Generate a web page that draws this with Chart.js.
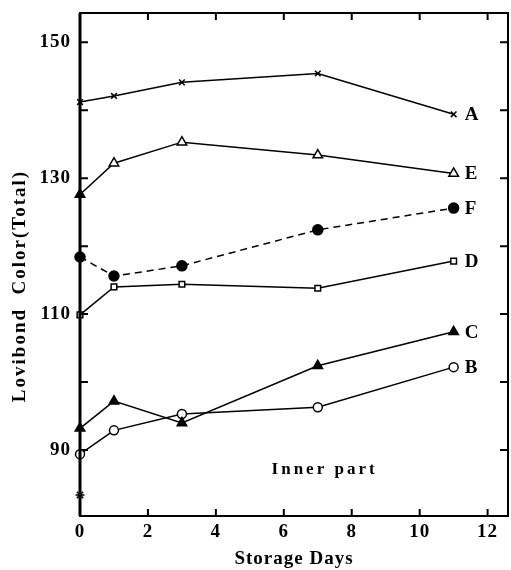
<!DOCTYPE html>
<html>
<head>
<meta charset="utf-8">
<script src="https://cdn.jsdelivr.net/npm/chart.js@4/dist/chart.umd.min.js"></script>
<style>
  html, body { margin: 0; padding: 0; background: #fff; overflow: hidden; }
  #wrap { width: 511px; height: 570px; position: relative; }
  canvas { display: block; }
</style>
</head>
<body>
<div id="wrap"><canvas id="c" width="511" height="570"></canvas></div>
<script>
// ---- data ----
const days = [0, 1, 3, 7, 11];
const seriesA = [141.2, 142.1, 144.1, 145.4, 139.4];
const seriesE = [127.6, 132.2, 135.3, 133.4, 130.7];
const seriesF = [118.4, 115.6, 117.1, 122.4, 125.6];
const seriesD = [109.9, 114.0, 114.4, 113.8, 117.8];
const seriesC = [93.2, 97.2, 94.0, 102.4, 107.4];
const seriesB = [89.4, 92.9, 95.3, 96.3, 102.2];
const extraDay = [0];
const extraValue = [83.4];
const seriesNames = ['A', 'E', 'F', 'D', 'C', 'B'];
const xTickValues = [0, 2, 4, 6, 8, 10, 12];
const yTickValues = [90, 100, 110, 120, 130, 140, 150];
const yLabelValues = [90, 110, 130, 150];
const xTitle = 'Storage Days';
const yTitle = 'Lovibond  Color(Total)';
const noteText = 'Inner part';

const SERIF = '"Liberation Serif", "DejaVu Serif", serif';
const toPts = (vals) => vals.map((v, i) => ({ x: days[i], y: v }));

function ds(label, vals, style, fill, extra) {
  return Object.assign({
    label: label,
    data: toPts(vals),
    borderColor: '#000',
    borderWidth: 1.5,
    pointStyle: style,
    pointRadius: 4.5,
    pointBorderWidth: 1.5,
    pointBorderColor: '#000',
    pointBackgroundColor: fill,
    tension: 0,
    fill: false,
    clip: false
  }, extra || {});
}

const datasets = [
  ds('A', seriesA, 'crossRot', '#000', { pointRadius: 4 }),
  ds('E', seriesE, 'triangle', ['#000', '#fff', '#fff', '#fff', '#fff'], { pointRadius: 5.5 }),
  ds('F', seriesF, 'circle', '#000', { borderDash: [7, 5], pointRadius: 5 }),
  ds('D', seriesD, 'rect', '#fff', { pointRadius: 4 }),
  ds('C', seriesC, 'triangle', '#000', { pointRadius: 5.5 }),
  ds('B', seriesB, 'circle', '#fff', { pointRadius: 4.5 }),
  {
    label: 'extra',
    data: extraDay.map((d, i) => ({ x: d, y: extraValue[i] })),
    showLine: false,
    clip: false,
    pointStyle: 'star',
    pointRadius: 4.5,
    pointBorderWidth: 1.5,
    pointBorderColor: '#000',
    pointBackgroundColor: '#000',
    borderColor: '#000'
  }
];

const decor = {
  id: 'decor',
  beforeDraw(chart) {
    chart.ctx.letterSpacing = '1px';
  },
  afterDatasetsDraw(chart) {
    const ctx = chart.ctx;
    const { left, right, top, bottom } = chart.chartArea;
    const xs = chart.scales.x, ys = chart.scales.y;
    ctx.save();
    ctx.strokeStyle = '#000';
    ctx.lineWidth = 2;
    // inward tick marks on all four sides
    xTickValues.forEach(v => {
      const px = xs.getPixelForValue(v);
      if (px <= left + 1) return;
      ctx.beginPath();
      ctx.moveTo(px, bottom); ctx.lineTo(px, bottom - 7);
      ctx.moveTo(px, top); ctx.lineTo(px, top + 7);
      ctx.stroke();
    });
    yTickValues.forEach(v => {
      const py = ys.getPixelForValue(v);
      ctx.beginPath();
      ctx.moveTo(left, py); ctx.lineTo(left + 8, py);
      ctx.moveTo(right, py); ctx.lineTo(right - 8, py);
      ctx.stroke();
    });
    // frame
    ctx.lineWidth = 2;
    ctx.strokeRect(left, top, right - left, bottom - top);
    ctx.lineWidth = 3;
    ctx.beginPath(); ctx.moveTo(left, top); ctx.lineTo(left, bottom); ctx.stroke();

    // series letters at the right end of each line
    ctx.fillStyle = '#000';
    ctx.font = 'bold 19px ' + SERIF;
    ctx.textAlign = 'left';
    ctx.textBaseline = 'middle';
    ctx.letterSpacing = '0px';
    seriesNames.forEach((name, i) => {
      const meta = chart.getDatasetMeta(i);
      const last = meta.data[meta.data.length - 1];
      ctx.fillText(name, last.x + 11, last.y + 1);
    });

    // "Inner part" note
    ctx.font = 'bold 17px ' + SERIF;
    ctx.letterSpacing = '3px';
    ctx.textAlign = 'center';
    ctx.fillText(noteText, xs.getPixelForValue(7.2), ys.getPixelForValue(87.1));

    // y-axis title
    ctx.font = 'bold 19px ' + SERIF;
    ctx.letterSpacing = '2px';
    ctx.translate(20, 286);
    ctx.rotate(-Math.PI / 2);
    ctx.textAlign = 'center';
    ctx.textBaseline = 'middle';
    ctx.fillText(yTitle, 0, 0);
    ctx.restore();
  }
};

function zeroPad(s) { s.paddingTop = 0; s.paddingBottom = 0; s.paddingLeft = 0; s.paddingRight = 0; }

new Chart(document.getElementById('c'), {
  type: 'line',
  data: { datasets },
  plugins: [decor],
  options: {
    responsive: false,
    animation: false,
    devicePixelRatio: 1,
    layout: { autoPadding: false, padding: { top: 13, right: 3, left: 0, bottom: 0 } },
    plugins: { legend: { display: false }, tooltip: { enabled: false } },
    scales: {
      x: {
        type: 'linear',
        min: 0,
        max: 12.6,
        afterBuildTicks: (s) => { s.ticks = xTickValues.map(v => ({ value: v })); },
        afterFit: (s) => { s.height = 54; zeroPad(s); },
        grid: { display: false, drawTicks: false },
        border: { display: false },
        ticks: {
          color: '#000',
          padding: 5,
          maxRotation: 0,
          font: { family: SERIF, size: 19, weight: 'bold' }
        },
        title: {
          display: true,
          text: xTitle,
          color: '#000',
          padding: { top: 0, bottom: 0 },
          font: { family: SERIF, size: 19, weight: 'bold' }
        }
      },
      y: {
        type: 'linear',
        min: 80.3,
        max: 154.3,
        afterBuildTicks: (s) => { s.ticks = yTickValues.map(v => ({ value: v })); },
        afterFit: (s) => { s.width = 80; zeroPad(s); },
        grid: { display: false, drawTicks: false },
        border: { display: false },
        ticks: {
          color: '#000',
          padding: 9,
          font: { family: SERIF, size: 19, weight: 'bold' },
          callback: (v) => yLabelValues.includes(v) ? String(v) : ''
        },
        title: { display: false }
      }
    }
  }
});
</script>
</body>
</html>
